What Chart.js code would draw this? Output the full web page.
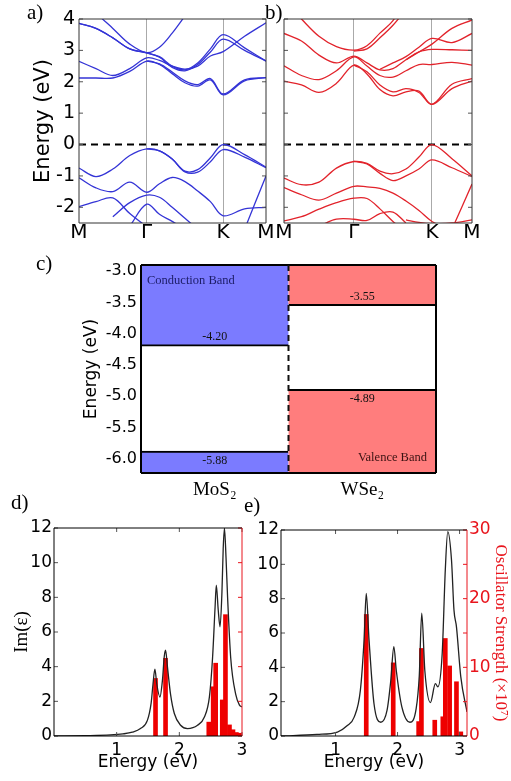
<!DOCTYPE html>
<html>
<head>
<meta charset="utf-8">
<script src="https://cdn.jsdelivr.net/npm/chart.js@4.4.0/dist/chart.umd.min.js"></script>
<style>
  body { margin: 0; background: #fff; width: 511px; height: 781px; position: relative; overflow: hidden; }
  canvas { position: absolute; left: 0; top: 0; }
  .tag { position: absolute; font-family: "Liberation Serif", serif; font-size: 21px; line-height: 21px; color: #000; }
</style>
</head>
<body>
<canvas id="bandsA" width="511" height="781"></canvas>
<canvas id="bandsB" width="511" height="781"></canvas>
<canvas id="levels" width="511" height="781"></canvas>
<canvas id="specD" width="511" height="781"></canvas>
<canvas id="specE" width="511" height="781"></canvas>
<div class="tag" style="left:27px;top:2px">a)</div>
<div class="tag" style="left:265px;top:2px">b)</div>
<div class="tag" style="left:36px;top:253px">c)</div>
<div class="tag" style="left:11px;top:492px">d)</div>
<div class="tag" style="left:244px;top:495px">e)</div>
<script>
// ---- band structures (a: MoS2, b: WSe2), energies in eV on a shared k grid ----
const kLabels = ['M', 'Γ', 'K', 'M']
const kTicksA = [0, 0.362, 0.771, 1]
const kTicksB = [0, 0.372, 0.787, 1]
const kA = [0, 0.0905, 0.181, 0.2715, 0.362, 0.4302, 0.4983, 0.5665, 0.6347, 0.7028, 0.771, 0.8855, 1]
const kB = [0, 0.093, 0.186, 0.279, 0.372, 0.4412, 0.5103, 0.5795, 0.6487, 0.7178, 0.787, 0.8935, 1]
const bandTicks = [-2, -1, 0, 1, 2, 3, 4]
const fermi = 0

const mos2Cond = [
  [2.12, 2.12, 2.12, 2.33, 2.66, 2.55, 2.26, 1.97, 1.86, 2.06, 1.58, 2.03, 2.13],
  [null, null, null, null, 2.66, 2.57, 2.31, 2.03, 1.91, 2.1, 1.61, 2.06, 2.13],
  [2.65, 2.42, 2.2, 2.42, 2.76, 2.68, 2.5, 2.4, 2.5, 2.82, 2.96, 3.45, 3.88],
  [3.86, 3.7, 3.4, 3.05, 2.92, 2.8, 2.5, 2.38, 2.6, 3.05, 3.5, 3.08, 2.66],
  [3.86, 3.7, 3.4, 3.05, 2.92, 2.78, 2.46, 2.35, 2.55, 2.95, 3.36, 3.0, 2.66],
  [4.8, 4.2, 3.7, 3.2, 2.93, 3.1, 3.55, 4.1, 4.7, null, null, null, null],
]
const mos2Val = [
  [-0.75, -1.02, -0.78, -0.35, -0.14, -0.2, -0.46, -0.85, -0.8, -0.42, 0.0, -0.32, -0.72],
  [null, null, null, null, -0.14, -0.2, -0.46, -0.87, -0.88, -0.55, -0.16, -0.4, -0.74],
  [-1.06, -1.38, -1.5, -1.2, -1.52, -1.25, -1.05, -1.18, -1.48, -1.82, -2.27, -2.05, -2.0],
  [-1.98, -1.82, -1.7, -2.2, -2.62, null, null, null, null, null, null, null, null],
  [null, null, -2.3, -1.85, -1.61, -1.68, -2.0, -2.35, -2.7, null, null, null, null],
  [null, null, null, -2.6, -1.9, -2.22, -2.45, -2.7, null, null, null, null, null],
  [null, null, null, null, null, null, null, null, null, null, null, -2.7, -1.0],
]
const wse2Cond = [
  [2.02, 1.9, 1.66, 1.95, 2.53, 2.25, 1.75, 1.55, 1.68, 1.7, 1.28, 1.78, 2.02],
  [null, null, null, null, 2.53, 2.32, 1.9, 1.68, 1.78, 1.66, 1.28, 1.92, 2.1],
  [2.51, 2.2, 2.07, 2.35, 2.79, 2.5, 2.2, 2.15, 2.35, 2.55, 2.55, 2.62, 2.53],
  [3.54, 3.3, 2.85, 2.6, 2.82, 2.6, 2.38, 2.42, 2.7, 2.95, 3.03, 3.02, 3.0],
  [4.6, 4.0, 3.45, 3.12, 3.01, 3.15, 3.55, 3.95, 4.6, null, null, null, null],
  [null, null, null, null, 2.98, 3.05, 3.4, 3.8, 4.3, null, null, null, null],
  [null, null, null, null, null, null, 2.4, 2.6, 2.8, 3.1, 3.38, 3.25, 3.54],
  [null, null, null, null, null, null, null, null, 2.7, 2.95, 3.2, 3.7, 3.97],
]
const wse2Val = [
  [-1.07, -1.28, -1.2, -0.75, -0.54, -0.6, -0.85, -0.93, -0.78, -0.4, 0.0, -0.45, -1.0],
  [null, null, null, null, -0.54, -0.62, -0.92, -1.15, -1.0, -0.78, -0.49, -0.74, -1.02],
  [-1.37, -1.6, -1.77, -1.55, -1.33, -1.35, -1.4, -1.55, -1.8, -2.1, -2.45, -2.75, null],
  [-2.43, -2.3, -2.06, -1.85, -1.71, -1.72, -2.05, -2.45, -2.8, null, null, null, null],
  [null, null, -2.6, -2.38, -2.38, -2.42, -2.2, -2.15, -2.5, null, null, null, null],
  [null, null, null, null, null, null, null, null, -2.4, -2.48, -2.52, -2.5, -2.4],
  [null, null, null, null, null, null, null, null, null, null, null, -2.7, -1.26],
]

// ---- band alignment (c) ----
const materials = ['MoS₂', 'WSe₂']
const cbm = [-4.20, -3.55]
const vbm = [-5.88, -4.89]
const levelTicks = [-3.0, -3.5, -4.0, -4.5, -5.0, -5.5, -6.0]
const levelTop = -2.9
const levelBottom = -6.23

// ---- absorption spectra (d: MoS2, e: WSe2) ----
const energyD = [0, 0.5, 0.9, 1.1, 1.25, 1.38, 1.49, 1.55, 1.58, 1.61, 1.64, 1.69, 1.73, 1.76, 1.78, 1.81, 1.86, 1.92, 2.02, 2.13, 2.29, 2.40, 2.48, 2.53, 2.57, 2.59, 2.62, 2.65, 2.68, 2.70, 2.72, 2.745, 2.77, 2.82, 2.9, 2.96, 3.0]
const imEpsD = [0, 0.02, 0.06, 0.12, 0.22, 0.43, 0.9, 1.9, 3.0, 3.85, 3.0, 2.25, 3.2, 4.6, 4.95, 4.0, 2.4, 1.3, 0.62, 0.43, 0.62, 1.1, 2.26, 4.5, 7.4, 8.7, 7.3, 6.3, 8.3, 10.8, 12.0, 10.3, 8.0, 4.5, 2.4, 1.78, 1.68]
const oscEnergyD = [1.62, 1.78, 2.47, 2.54, 2.58, 2.685, 2.736, 2.80, 2.856, 2.91, 2.96]
const oscD = [8.3, 11.2, 2.0, 7.1, 10.5, 5.2, 17.5, 1.6, 0.9, 0.5, 0.4]

const energyE = [0.12, 0.7, 1.03, 1.19, 1.3, 1.4, 1.46, 1.495, 1.54, 1.62, 1.73, 1.83, 1.89, 1.94, 1.98, 2.07, 2.2, 2.3, 2.35, 2.39, 2.44, 2.53, 2.61, 2.65, 2.72, 2.77, 2.81, 2.87, 2.91, 2.95, 3.02, 3.12]
const imEpsE = [0.0, 0.09, 0.23, 0.61, 1.1, 2.66, 5.6, 8.3, 5.6, 1.88, 0.8, 1.49, 3.2, 5.2, 3.8, 1.68, 0.8, 1.6, 3.5, 7.15, 3.8, 1.95, 3.05, 2.87, 4.8, 9.67, 11.9, 10.25, 7.33, 6.36, 3.44, 1.4]
const oscEnergyE = [1.495, 1.93, 2.34, 2.385, 2.60, 2.73, 2.77, 2.84, 2.95, 3.02]
const oscE = [17.7, 10.65, 2.1, 12.75, 2.3, 2.8, 14.2, 10.2, 7.9, 0.6]

const imTicks = [0, 2, 4, 6, 8, 10, 12]
const oscTicks = [0, 5, 10, 15, 20, 25, 30]
const energyTicks = [1, 2, 3]

Chart.defaults.font.family = 'DejaVu Sans'
Chart.defaults.color = '#000'
Chart.defaults.animation = false
Chart.defaults.responsive = false
Chart.defaults.devicePixelRatio = 1
Chart.defaults.plugins.legend.display = false
Chart.defaults.plugins.tooltip.enabled = false
Chart.defaults.elements.point.radius = 0

const W = 511, H = 781
const serif = 'Liberation Serif'
const setTicks = vals => s => { s.ticks = vals.map(v => ({ value: v })) }

// box frame + MATLAB-like inward tick marks
const frame = {
  id: 'frame',
  afterDatasetsDraw(chart, args, o) {
    if (!o.sides) return
    const { ctx, chartArea: a } = chart
    ctx.save()
    ctx.lineWidth = 1
    ;(o.marks || []).forEach(([id, side, color]) => {
      const s = chart.scales[id]
      ctx.strokeStyle = color
      s.ticks.forEach(t => {
        const p = s.getPixelForValue(t.value)
        ctx.beginPath()
        if (side === 'left') { ctx.moveTo(a.left, p); ctx.lineTo(a.left + 4, p) }
        if (side === 'right') { ctx.moveTo(a.right, p); ctx.lineTo(a.right - 4, p) }
        if (side === 'bottom') { ctx.moveTo(p, a.bottom); ctx.lineTo(p, a.bottom - 4) }
        if (side === 'top') { ctx.moveTo(p, a.top); ctx.lineTo(p, a.top + 4) }
        ctx.stroke()
      })
    })
    ctx.lineWidth = o.width
    const seg = (c, x1, y1, x2, y2) => {
      ctx.strokeStyle = c
      ctx.beginPath(); ctx.moveTo(x1, y1); ctx.lineTo(x2, y2); ctx.stroke()
    }
    seg(o.sides[0], a.left, a.top, a.right, a.top)
    seg(o.sides[1], a.right, a.top, a.right, a.bottom)
    seg(o.sides[2], a.left, a.bottom, a.right, a.bottom)
    seg(o.sides[3], a.left, a.top, a.left, a.bottom)
    ctx.restore()
  }
}
Chart.register(frame)

function bandChart(id, k, kTicks, cond, val, color, box, showY) {
  const sets = cond.concat(val).map(b => ({
    data: b.map((y, i) => ({ x: k[i], y })),
    borderColor: color, borderWidth: 1.3, tension: 0.35, spanGaps: false,
  }))
  sets.push({
    data: [{ x: 0, y: fermi }, { x: 1, y: fermi }],
    borderColor: '#000', borderWidth: 2, borderDash: [7, 5],
  })
  return new Chart(document.getElementById(id), {
    type: 'line',
    data: { datasets: sets },
    options: {
      layout: { padding: { left: 0, top: box.t, right: W - box.r, bottom: 0 } },
      scales: {
        x: {
          type: 'linear', min: 0, max: 1,
          afterBuildTicks: setTicks(kTicks),
          afterFit: s => { s.height = H - box.b },
          ticks: { callback: (v, i) => kLabels[i], font: { size: 20 }, padding: -2, maxRotation: 0, autoSkip: false },
          grid: { drawTicks: false, color: c => (c.index > 0 && c.index < 3) ? '#aaa' : 'rgba(0,0,0,0)' },
          border: { display: false },
        },
        y: {
          min: -2.5, max: 4,
          afterBuildTicks: setTicks(bandTicks),
          afterFit: s => { s.width = box.l },
          ticks: { display: showY, font: { size: 19 }, padding: 4 },
          title: { display: showY, text: 'Energy (eV)', font: { size: 21 }, padding: { top: 31 } },
          grid: { display: false, drawTicks: false },
          border: { display: false },
        },
      },
      plugins: {
        frame: { sides: ['#333', '#333', '#333', '#333'], width: 1, marks: [['y', 'left', '#555'], ['y', 'right', '#555']] },
      },
    },
  })
}

bandChart('bandsA', kA, kTicksA, mos2Cond, mos2Val, '#3434d6', { l: 79, t: 19, r: 266, b: 223 }, true)
bandChart('bandsB', kB, kTicksB, wse2Cond, wse2Val, '#e2232b', { l: 284, t: 19, r: 472, b: 223 }, false)

// labels inside the band-alignment panel
const levelLabels = {
  id: 'levelLabels',
  afterDatasetsDraw(chart) {
    const { ctx, chartArea: a, scales: { x, y } } = chart
    ctx.save()
    // divider between the two materials
    const mid = (x.getPixelForValue(0) + x.getPixelForValue(1)) / 2
    ctx.strokeStyle = '#111'; ctx.lineWidth = 2; ctx.setLineDash([6, 4])
    ctx.beginPath(); ctx.moveTo(mid, a.top); ctx.lineTo(mid, a.bottom); ctx.stroke()
    ctx.setLineDash([])
    ctx.font = '12px "Liberation Serif"'
    ctx.fillStyle = '#111'
    ctx.textAlign = 'center'; ctx.textBaseline = 'middle'
    materials.forEach((m, i) => {
      const cx = x.getPixelForValue(i)
      ctx.fillText(cbm[i].toFixed(2), cx, y.getPixelForValue(cbm[i]) - 9)
      ctx.fillText(vbm[i].toFixed(2), cx, y.getPixelForValue(vbm[i]) + 10)
    })
    ctx.font = '12.5px "Liberation Serif"'
    ctx.textAlign = 'left'; ctx.fillStyle = '#1c1c66'
    ctx.fillText(chart.data.datasets[0].label, a.left + 6, a.top + 16)
    ctx.textAlign = 'right'; ctx.fillStyle = '#3a1212'
    ctx.fillText(chart.data.datasets[1].label, a.right - 9, a.bottom - 15)
    ctx.restore()
  }
}

const cBox = { l: 141, t: 265, r: 436, b: 473 }
new Chart(document.getElementById('levels'), {
  type: 'bar',
  data: {
    labels: materials,
    datasets: [
      {
        label: 'Conduction Band',
        data: cbm.map(v => [levelTop, v]),
        backgroundColor: ['#7b7bff', '#ff7d7d'], borderColor: '#000',
        borderWidth: { top: 0, right: 0, bottom: 2, left: 0 }, borderSkipped: false,
        barPercentage: 1, categoryPercentage: 1, grouped: false,
      },
      {
        label: 'Valence Band',
        data: vbm.map(v => [v, levelBottom]),
        backgroundColor: ['#7b7bff', '#ff7d7d'], borderColor: '#000',
        borderWidth: { top: 2, right: 0, bottom: 0, left: 0 }, borderSkipped: false,
        barPercentage: 1, categoryPercentage: 1, grouped: false,
      },
    ],
  },
  options: {
    layout: { padding: { left: 0, top: cBox.t, right: W - cBox.r, bottom: 0 } },
    scales: {
      x: {
        afterFit: s => { s.height = H - cBox.b },
        ticks: { font: { family: serif, size: 19 }, padding: 6 },
        grid: { display: false, drawTicks: false },
        border: { display: false },
      },
      y: {
        min: levelBottom, max: levelTop,
        afterBuildTicks: setTicks(levelTicks),
        afterFit: s => { s.width = cBox.l },
        ticks: { callback: v => v.toFixed(1), font: { size: 16 }, padding: 4 },
        title: { display: true, text: 'Energy (eV)', font: { size: 17 }, padding: { top: 81 } },
        grid: { display: false, drawTicks: false },
        border: { display: false },
      },
    },
    plugins: { frame: { sides: ['#000', '#000', '#000', '#000'], width: 2 } },
  },
  plugins: [levelLabels],
})

function spectrumChart(id, energy, im, oscE, osc, box, xMin, xMax, showRight) {
  return new Chart(document.getElementById(id), {
    type: 'line',
    data: {
      datasets: [
        {
          data: energy.map((e, i) => ({ x: e, y: im[i] })),
          borderColor: '#222', borderWidth: 1.3, cubicInterpolationMode: 'monotone', yAxisID: 'y',
        },
        {
          type: 'bar',
          data: oscE.map((e, i) => ({ x: e, y: osc[i] })),
          backgroundColor: '#ee0000', barThickness: 4, yAxisID: 'y2',
        },
      ],
    },
    options: {
      layout: { padding: { left: 0, top: box.t, right: 0, bottom: 0 } },
      scales: {
        x: {
          type: 'linear', min: xMin, max: xMax, offset: false,
          afterBuildTicks: setTicks(energyTicks),
          afterFit: s => { s.height = H - box.b },
          ticks: { font: { size: 17 }, padding: 4 },
          title: { display: true, text: 'Energy (eV)', font: { size: 17 }, padding: { bottom: 8 } },
          grid: { display: false, drawTicks: false },
          border: { display: false },
        },
        y: {
          min: 0, max: 12,
          afterBuildTicks: setTicks(imTicks),
          afterFit: s => { s.width = box.l },
          ticks: { font: { size: 17 }, padding: 2 },
          title: { display: !showRight, text: 'Im(ε)', font: { family: serif, size: 19 }, padding: { top: 11 } },
          grid: { display: false, drawTicks: false },
          border: { display: false },
        },
        y2: {
          position: 'right', min: 0, max: 30,
          afterBuildTicks: setTicks(oscTicks),
          afterFit: s => { s.width = W - box.r },
          ticks: { display: showRight, callback: v => (v % 10 === 0 ? v : ''), color: '#e8141c', font: { size: 17 }, padding: 2 },
          title: { display: showRight, text: 'Oscillator Strength (×10⁷)', color: '#e8141c', font: { family: serif, size: 17 }, padding: { top: 0 } },
          grid: { display: false, drawTicks: false },
          border: { display: false },
        },
      },
      plugins: {
        frame: {
          sides: ['#000', '#e8141c', '#000', '#000'], width: 1,
          marks: [['y', 'left', '#555'], ['y2', 'right', '#e8141c'], ['x', 'bottom', '#555'], ['x', 'top', '#555']],
        },
      },
    },
  })
}

spectrumChart('specD', energyD, imEpsD, oscEnergyD, oscD, { l: 54, t: 528, r: 242, b: 736 }, 0, 3, false)
spectrumChart('specE', energyE, imEpsE, oscEnergyE, oscE, { l: 281, t: 530, r: 467, b: 736 }, 0.12, 3.12, true)
</script>
</body>
</html>
